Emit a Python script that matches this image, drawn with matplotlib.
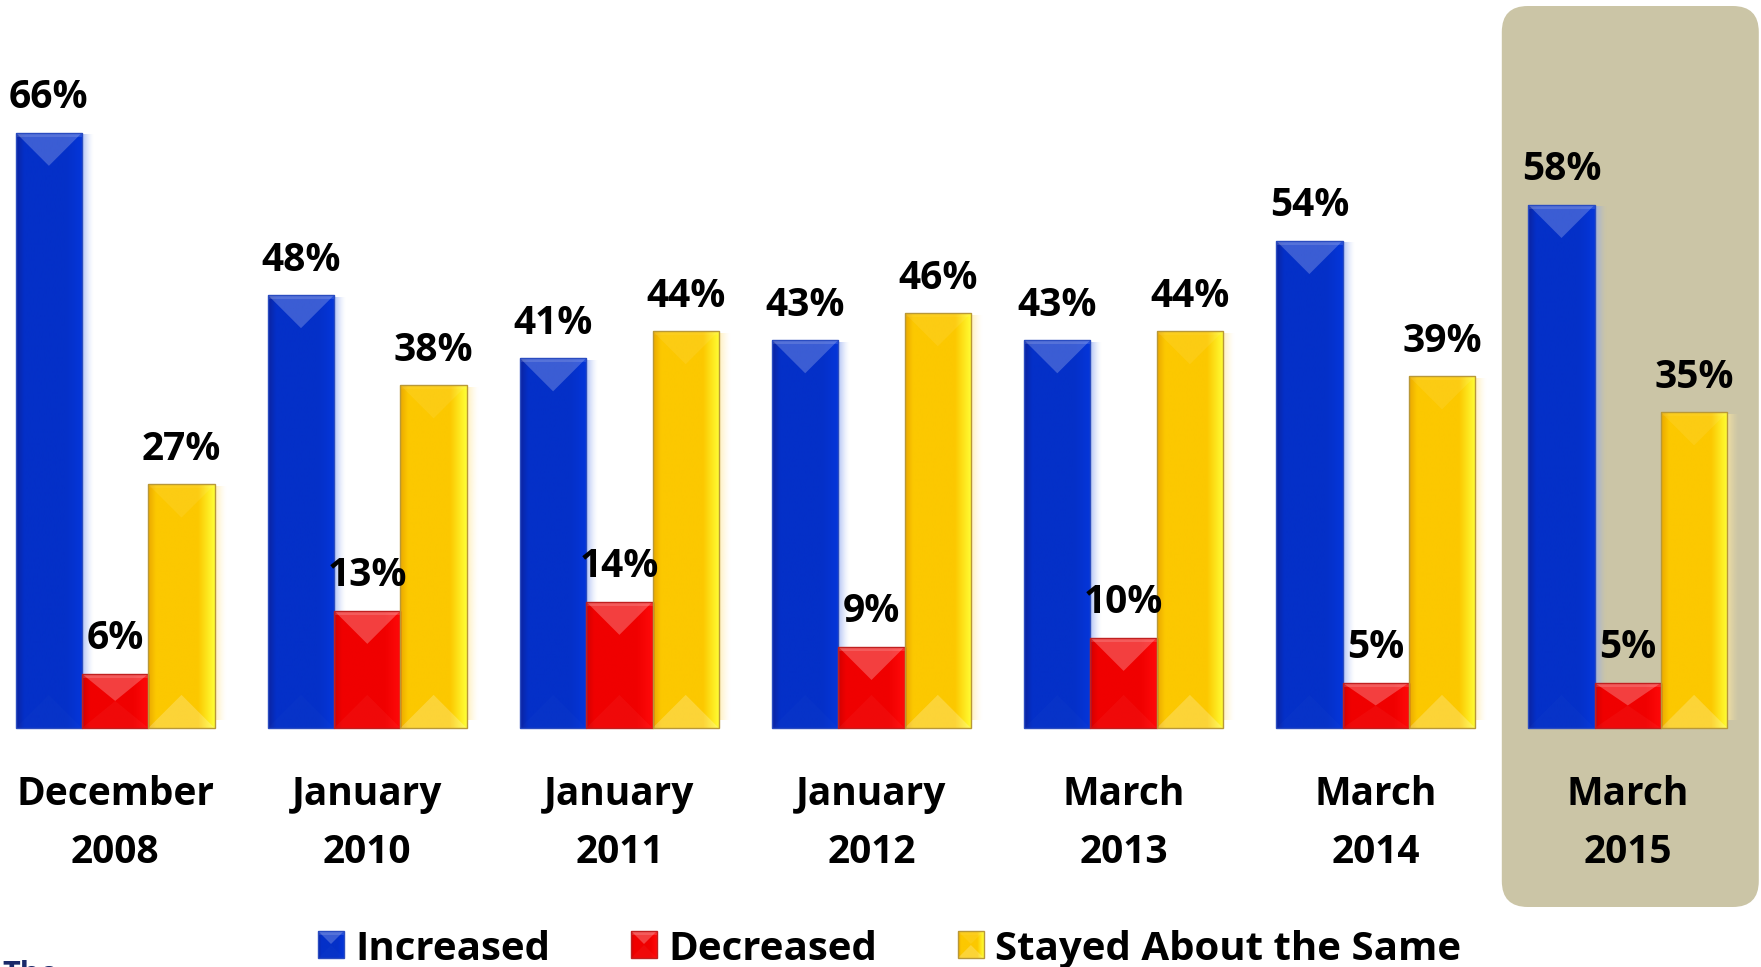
import numpy as np
import matplotlib
matplotlib.use("Agg")
import matplotlib.pyplot as plt
from matplotlib.patches import Polygon, Rectangle, FancyBboxPatch
from matplotlib.colors import LinearSegmentedColormap, to_rgb

# ---- data ---------------------------------------------------------------
periods = ["December\n2008", "January\n2010", "January\n2011", "January\n2012",
           "March\n2013", "March\n2014", "March\n2015"]
series_names = ["Increased", "Decreased", "Stayed About the Same"]
increased = [66, 48, 41, 43, 43, 54, 58]
decreased = [6, 13, 14, 9, 10, 5, 5]
same = [27, 38, 44, 46, 44, 39, 35]
highlight_period = "March\n2015"

# ---- styling ------------------------------------------------------------
styles = [
    dict(left="#0c23a0", mid="#0430c8", right="#0536da", edge="#2a4cc0",
         halo="#8fa8f0", top=0.22, bottom=0.015),
    dict(left="#d20000", mid="#f00000", right="#ff0a0a", edge="#c02020",
         halo="#ffb0b0", top=0.25, bottom=0.04),
    dict(left="#eaa800", mid="#fcc800", right="#ffff36", edge="#b89838",
         halo="#ffe9a0", top=0.08, bottom=0.22),
]
FONT = ["Open Sans", "DejaVu Sans"]
WEIGHT = "bold"
BOX_COLOR = "#cbc5a6"

W, H, DPI = 1761, 967, 100
GROUP_PX = 252.1      # distance between group centres
PX_PER_PCT = 9.02     # vertical pixels per percentage point
X0_PX = 115.2         # centre of the first group
BASE_PX = 239         # baseline height above figure bottom
BAR_PX = 66.3         # bar width


def px_x(p):
    return p / GROUP_PX


def px_y(p):
    return p / PX_PER_PCT


def top_px_to_y(p):
    """Convert a pixel row measured from the top of the figure to data y."""
    return (H - p - BASE_PX) / PX_PER_PCT


fig = plt.figure(figsize=(W / DPI, H / DPI), dpi=DPI)
fig.patch.set_facecolor("white")
ax = fig.add_axes([0, 0, 1, 1])
ax.set_axis_off()
xlim = (-X0_PX / GROUP_PX, (W - X0_PX) / GROUP_PX)
ylim = (-BASE_PX / PX_PER_PCT, (H - BASE_PX) / PX_PER_PCT)

# highlight panel behind the latest period
hi = periods.index(highlight_period)
box_l, box_r = hi - px_x(126), hi + px_x(131)
box_t, box_b = top_px_to_y(6), top_px_to_y(907)
ax.add_patch(FancyBboxPatch((box_l, box_b), box_r - box_l, box_t - box_b,
                            boxstyle=f"round,pad=0,rounding_size={px_x(26)}",
                            mutation_aspect=GROUP_PX / PX_PER_PCT,
                            facecolor=BOX_COLOR, edgecolor="none", zorder=0))


def decorate(rect, st, halo=True):
    """Gradient fill, bevel facets and a soft glow for one bar patch."""
    x, y0 = rect.get_x(), rect.get_y()
    w, h = rect.get_width(), rect.get_height()
    cmap = LinearSegmentedColormap.from_list(
        "g", [(0, st["left"]), (0.12, st["mid"]), (0.75, st["mid"]), (1, st["right"])])
    grad = np.linspace(0, 1, 256).reshape(1, -1)
    im = ax.imshow(grad, cmap=cmap, extent=[x, x + w, y0, y0 + h], aspect="auto",
                   interpolation="bilinear", zorder=rect.get_zorder() + 0.1)
    im.set_clip_path(rect)
    depth = min(px_y(w * GROUP_PX / 2), h / 2)
    z = rect.get_zorder() + 0.2
    ax.add_patch(Polygon([(x, y0 + h), (x + w, y0 + h), (x + w / 2, y0 + h - depth)],
                         closed=True, facecolor="white", alpha=st["top"],
                         edgecolor="none", zorder=z))
    ax.add_patch(Rectangle((x, y0 + h - px_y(4)), w, px_y(4), facecolor="white",
                           alpha=st["top"] * 0.6, edgecolor="none", zorder=z))
    ax.add_patch(Polygon([(x, y0), (x + w, y0), (x + w / 2, y0 + depth)],
                         closed=True, facecolor="white", alpha=st["bottom"],
                         edgecolor="none", zorder=z))
    ax.add_patch(Rectangle((x, y0), w, h, facecolor="none", edgecolor=st["edge"],
                           linewidth=1.0, zorder=z + 0.1))
    if halo:
        rgb = np.array(to_rgb(st["halo"]))
        n = 32
        img = np.zeros((1, n, 4))
        img[..., :3] = rgb
        img[0, :, 3] = np.linspace(0.8, 0.0, n) ** 1.5
        ax.imshow(img, extent=[x + w, x + w + px_x(12), y0 + px_y(8), y0 + h - px_y(2)],
                  aspect="auto", interpolation="bilinear", zorder=rect.get_zorder() - 0.5)


# ---- bars ---------------------------------------------------------------
xs = np.arange(len(periods))
bw = BAR_PX / GROUP_PX
for k, (vals, st) in enumerate(zip([increased, decreased, same], styles)):
    bars = ax.bar(xs + (k - 1) * bw, vals, width=bw, color=st["mid"],
                  edgecolor="none", zorder=3 + k * 0.01)
    for rect, v in zip(bars, vals):
        decorate(rect, st)
        ax.text(rect.get_x() + rect.get_width() / 2, v + px_y(24.5), f"{v}%",
                ha="center", va="baseline", fontsize=28, fontweight=WEIGHT,
                family=FONT, color="black", zorder=10)

# ---- category labels ----------------------------------------------------
line_rows = [805, 863]
for i, label in enumerate(periods):
    for line, row in zip(label.split("\n"), line_rows):
        ax.text(i, top_px_to_y(row), line, ha="center", va="baseline",
                fontsize=28, fontweight=WEIGHT, family=FONT, color="black", zorder=10)

ax.set_xlim(*xlim)
ax.set_ylim(*ylim)

# ---- legend -------------------------------------------------------------
fig.canvas.draw()
renderer = fig.canvas.get_renderer()
cur_px = 318.0
sq_px = 26
leg_base = top_px_to_y(960)
sq_bottom, sq_top = top_px_to_y(958), top_px_to_y(931)
for name, st in zip(series_names, styles):
    xl = (cur_px - X0_PX) / GROUP_PX
    sq = Rectangle((xl, sq_bottom), px_x(sq_px), sq_top - sq_bottom,
                   facecolor=st["mid"], edgecolor="none", zorder=5)
    ax.add_patch(sq)
    decorate(sq, st, halo=False)
    t = ax.text((cur_px + sq_px + 11 - X0_PX) / GROUP_PX, leg_base, name,
                ha="left", va="baseline", fontsize=29, fontweight=WEIGHT,
                family=FONT, color="black", zorder=10)
    bb = t.get_window_extent(renderer)
    cur_px = bb.x1 + 81

# source line at the lower-left edge, mostly below the frame
ax.text(px_x(2) + xlim[0], top_px_to_y(960), "The", ha="left", va="top",
        fontsize=22, fontweight="bold", family=FONT, color="#1a2a6a", zorder=10)

ax.set_xlim(*xlim)
ax.set_ylim(*ylim)
fig.savefig("out.png", dpi=DPI, facecolor="white")
